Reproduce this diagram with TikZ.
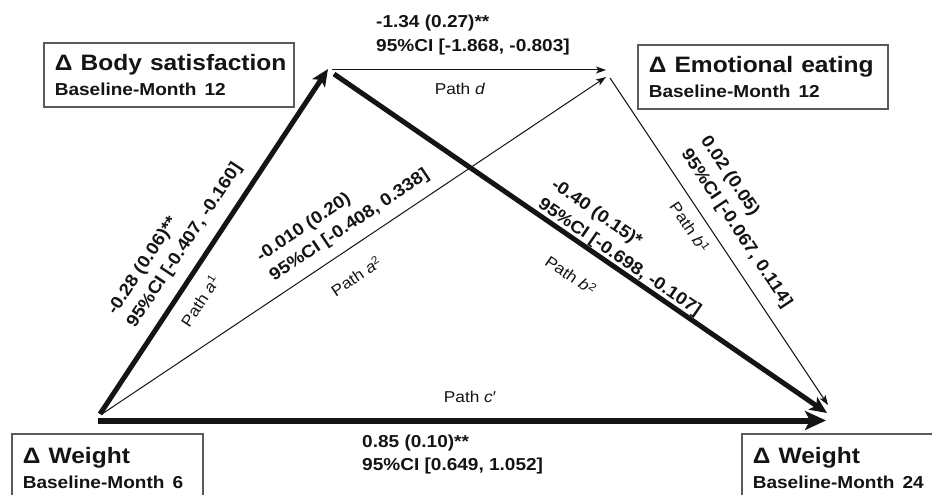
\documentclass[tikz,border=0pt]{standalone}
\usepackage{graphicx}
\usepackage{fontspec}
\setmainfont{Liberation Sans}
\usetikzlibrary{arrows.meta}
\definecolor{ink}{HTML}{141414}
\definecolor{boxline}{HTML}{5A5A5A}
\newcommand\hs[1]{\scalebox{1.1}[1]{#1}}
\newcommand\subf{\fontsize{17.3}{25}\selectfont\bfseries}
\begin{document}
\begin{tikzpicture}[x=1pt,y=-1pt,
  box/.style={draw=boxline, line width=1.6pt, rectangle, anchor=north west,
    inner xsep=11pt, inner ysep=0pt, text width=228pt, minimum width=250pt,
    minimum height=64pt, align=left, text=ink,
    font=\fontsize{22.3}{25}\selectfont\bfseries},
  lab/.style={font=\fontsize{17.3}{23.5}\selectfont\bfseries, align=left, inner sep=0pt, text=ink},
  pathlab/.style={font=\fontsize{15.7}{18}\selectfont, inner sep=0pt, text=ink},
  hugearrow/.style={draw=ink, line width=6pt, -{Stealth[length=21pt,width=19pt,inset=5pt]}},
  bigarrow/.style={draw=ink, line width=5pt, -{Stealth[length=17pt,width=15pt,inset=4pt]}},
  slimarrow/.style={draw=ink, line width=1pt, -{Stealth[length=10pt,width=7pt,inset=2.5pt]}},
  ]
\useasboundingbox (0,0) rectangle (932,495);
\clip (0,0) rectangle (932,495);
\fill[white] (0,0) rectangle (932,495);

% boxes
\node[box] (bs) at (43,42) {\hs{Δ Body satisfaction}\\\hs{\subf Baseline-Month 12}};
\node[box] (ee) at (637,44) {\hs{Δ Emotional eating}\\\hs{\subf Baseline-Month 12}};
\node[box, text width=169pt, minimum width=191pt, minimum height=68pt] (w6) at (11,433) {\hs{Δ Weight}\\\hs{\subf Baseline-Month 6}};
\node[box, minimum height=68pt] (w24) at (741,433) {\hs{Δ Weight}\\\hs{\subf Baseline-Month 24}};

% connector end points
\coordinate (A0) at (98,420.5);
\coordinate (A1) at (100,414);
\coordinate (A2) at (102,414);
\coordinate (B1) at (328,69);
\coordinate (B2) at (332,70);
\coordinate (B3) at (334,74);
\coordinate (E1) at (606,70);
\coordinate (E2) at (606,77);
\coordinate (E3) at (610,78);
\coordinate (C1) at (826,420.5);
\coordinate (C2) at (827,413);
\coordinate (C3) at (828,405);

% connectors
\draw[slimarrow] (B2) -- (E1);
\draw[slimarrow] (A2) -- (E2);
\draw[slimarrow] (E3) -- (C3);
\draw[bigarrow] (A1) -- (B1);
\draw[bigarrow] (B3) -- (C2);
\draw[hugearrow] (A0) -- (C1);

% labels
\node[lab, anchor=north west] (ld) at (376,15) {\hs{-1.34 (0.27)**}\\\hs{95\%CI [-1.868, -0.803]}};
\node[pathlab] (pd) at (460,89) {\hs{Path \textit{d}}};
\node[lab, anchor=north west] (lc) at (362,434.5) {\hs{0.85 (0.10)**}\\\hs{95\%CI [0.649, 1.052]}};
\node[pathlab] (pc) at (470,397) {\hs{Path \textit{c}′}};
\node[lab, rotate=56.5] (la1) at (175,239) {\hs{-0.28 (0.06)**}\\\hs{95\%CI [-0.407, -0.160]}};
\node[pathlab, rotate=56.5] (pa1) at (200,301) {\hs{Path \textit{a}\textsuperscript{1}}};
\node[lab, rotate=33.8] (la2) at (343,216) {\hs{-0.010 (0.20)}\\\hs{95\%CI [-0.408, 0.338]}};
\node[pathlab, rotate=33.8] (pa2) at (356,276) {\hs{Path \textit{a}\textsuperscript{2}}};
\node[lab, rotate=-34.5] (lb2) at (626,248) {\hs{-0.40 (0.15)*}\\\hs{95\%CI [-0.698, -0.107]}};
\node[pathlab, rotate=-34.5] (pb2) at (571,275) {\hs{Path \textit{b}\textsuperscript{2}}};
\node[lab, rotate=-56.3] (lb1) at (746,222) {\hs{0.02 (0.05)}\\\hs{95\%CI [-0.067, 0.114]}};
\node[pathlab, rotate=-56.3] (pb1) at (690,227) {\hs{Path \textit{b}\textsuperscript{1}}};
\end{tikzpicture}
\end{document}
